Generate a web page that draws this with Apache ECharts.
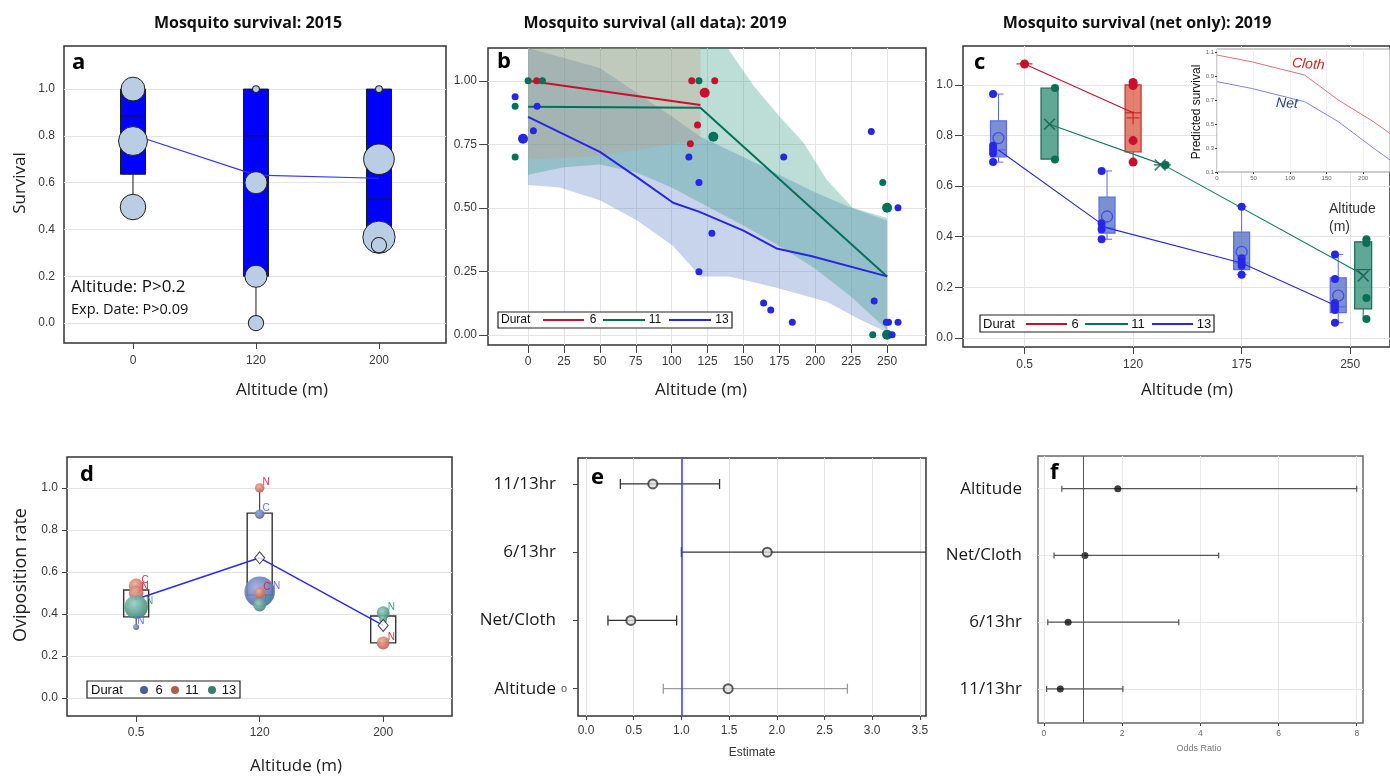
<!DOCTYPE html>
<html><head><meta charset="utf-8">
<script src="https://cdn.jsdelivr.net/npm/echarts@6/dist/echarts.min.js"></script>
<style>html,body{margin:0;padding:0;background:#fff}#c{width:1390px;height:778px}</style>
</head><body><div id="c"></div>
<script>
// ================= DATA =================
// Panel a (2015)
const aCats = ['0','120','200'];
const aBoxes = [ // [pos, low, q1, median, q3, high]
  [0, 0.50, 0.636, 0.885, 1.0, 1.0],
  [1, 0.00, 0.20, 0.80, 1.0, 1.0],
  [2, 0.33, 0.38, 0.53, 1.0, 1.0]];
const aMeans = [0.805, 0.632, 0.619];
const aPoints = [[0,1.0],[0,0.778],[0,0.496],[1,1.0],[1,0.60],[1,0.20],[1,0.0],[2,1.0],[2,0.70],[2,0.367],[2,0.333]];
const aWeights = [7, 8.5, 7.5, 2, 6.5, 6.5, 4.5, 2, 9, 9.5, 4.5];

// Panel b (2019 all data): [altitude, survival, n]
const bPts6 = [[6,1.0,1],[114,1.0,1],[130,1.0,1],[123,0.953,2],[118,0.826,1],[113,0.752,1]];
const bPts11 = [[0,1.0,1],[10,1.0,1],[-9,0.90,1],[-9,0.70,1],[119,1.0,1],[129,0.78,2],[247,0.60,1],[250,0.50,2],[240,0.0,1],[250,0.0,2]];
const bPts13 = [[-9,0.937,1],[-3.5,0.772,2],[3.7,0.803,1],[6.3,0.90,1],[112,0.70,1],[119,0.60,1],[119,0.248,1],[128,0.40,1],[164,0.125,1],[169,0.098,1],[184,0.05,1],[178,0.70,1],[239,0.80,1],[241,0.133,1],[249.5,0.05,1],[251,0.05,1],[253.5,0.0,1],[257.6,0.05,1],[257.6,0.5,1]];
const bFit6 = [[0,1.0],[120,0.905]];
const bFit11 = [[0,0.898],[120,0.894],[250,0.23]];
const bFit13 = [[0,0.858],[50,0.72],[76,0.62],[101,0.52],[119,0.485],[150,0.41],[173,0.34],[197,0.31],[250,0.23]];
const bBand6Up = [[0,1.3],[120,1.3]];
const bBand6Lo = [[0,0.69],[40,0.70],[80,0.73],[120,0.77]];
const bBand11Up = [[0,1.3],[139,1.13],[157,0.98],[175,0.86],[192,0.755],[208,0.61],[226,0.50],[250,0.46]];
const bBand11Lo = [[0,0.63],[25,0.66],[50,0.67],[75,0.64],[100,0.58],[120,0.52],[150,0.43],[175,0.35],[200,0.26],[225,0.15],[250,0.02]];
const bBand13Up = [[0,1.3],[50,1.05],[100,0.86],[120,0.78],[150,0.70],[175,0.63],[200,0.56],[225,0.50],[250,0.45]];
const bBand13Lo = [[0,0.59],[22,0.58],[50,0.53],[76,0.45],[101,0.35],[120,0.23],[140,0.23],[173,0.185],[208,0.13],[231,0.06],[250,0.01]];

// Panel c (2019 net only)
const cCats = ['0.5','120','175','250'];
const cBox13 = [[-0.24,0.695,0.716,0.743,0.858,0.964],[0.76,0.39,0.414,0.435,0.557,0.66],[2.0,0.25,0.27,0.296,0.418,0.52],[2.89,0.06,0.10,0.123,0.237,0.33]];
const cBox11 = [[0.23,0.707,0.707,null,0.988,0.988],[1.27,0.684,0.684,null,0.684,0.684],[3.12,0.075,0.115,0.27,0.38,0.39]];
const cBox6 = [[0,1.083,1.083,null,1.083,1.083],[1.0,0.695,0.735,0.89,1.0,1.0]];
const cPts13 = [[-0.29,0.964],[-0.29,0.76],[-0.29,0.745],[-0.29,0.73],[-0.29,0.695],[0.71,0.66],[0.71,0.453],[0.71,0.43],[0.71,0.39],[2.0,0.518],[2.0,0.315],[2.0,0.30],[2.0,0.285],[2.0,0.25],[2.86,0.33],[2.86,0.233],[2.86,0.138],[2.86,0.126],[2.86,0.11],[2.86,0.06]];
const cPts11 = [[0.28,0.988],[0.28,0.705],[1.30,0.684],[3.15,0.39],[3.15,0.375],[3.15,0.158],[3.15,0.075]];
const cPts6 = [[0,1.083],[1.0,1.01],[1.0,0.998],[1.0,0.78],[1.0,0.695]];
const cMean13 = [[-0.24,0.79],[0.76,0.48],[2.0,0.34],[2.89,0.167]];
const cMean11 = [[0.23,0.845],[1.25,0.684],[3.12,0.245]];
const cMean6 = [[1.0,0.87]];
const cLine13 = [[-0.24,0.743],[0.76,0.435],[2.0,0.296],[2.89,0.123]];
const cLine11 = [[0.23,0.845],[1.28,0.684],[3.12,0.25]];
const cLine6 = [[0,1.083],[1.0,0.89]];
// inset: predicted survival vs altitude
const insCloth = [[0,1.075],[47,1.019],[120,0.908],[166,0.70],[214,0.52],[237,0.42]];
const insNet = [[0,0.853],[47,0.797],[120,0.686],[166,0.52],[214,0.30],[237,0.20]];

// Panel d (oviposition): [pos, rate, weight, tag]
const dCats = ['0.5','120','200'];
const dBoxes = [[0,0.338,0.386,null,0.514,0.514],[1,0.49,0.49,null,0.88,1.0],[2,0.262,0.262,null,0.39,0.39]];
const dPts6 = [[0,0.338,1,'N'],[1,0.875,2,'C'],[1,0.505,8,'N']];
const dPts11 = [[0,0.533,3.5,'C'],[0,0.50,3.5,'N'],[1,1.0,2,'N'],[1,0.50,2.5,'C'],[2,0.262,3,'N']];
const dPts13 = [[0,0.433,6,'N'],[1,0.443,3,'N'],[2,0.405,3,'N'],[2,0.375,1.5,'']];
const dMeans = [0.47, 0.667, 0.345];

// Panel e (estimates)
const eLabels = ['Altitude','Net/Cloth','6/13hr','11/13hr'];
const eEst = [1.49, 0.47, 1.90, 0.70];
const eLo = [0.81, 0.23, 1.00, 0.36];
const eHi = [2.74, 0.95, 3.70, 1.40];

// Panel f (odds ratios)
const fLabels = ['11/13hr','6/13hr','Net/Cloth','Altitude'];
const fEst = [0.42, 0.62, 1.05, 1.89];
const fLo = [0.07, 0.10, 0.26, 0.46];
const fHi = [2.02, 3.45, 4.47, 8.0];

// ================= STYLE / BUILD =================
const FT = '"Liberation Sans", Arial, sans-serif';
const FO = '"Open Sans", "Noto Sans", sans-serif';
const RED = '#c8102e', GRN = '#00715a', BLU = '#2626e6';

function range(a, b, s){ const r=[]; for(let v=a; v<=b+1e-9; v+=s) r.push(+v.toFixed(6)); return r; }

function axis(o){
  return {
    type:'value', gridIndex:o.gi, min:o.min, max:o.max, minInterval:o.step, maxInterval:o.step,
    z: o.z || 0,
    axisLine:{show:false, onZero:false},
    axisTick:{show:(o.tickLen||0)>0, inside:false, length:o.tickLen||4, customValues:o.ticks,
      lineStyle:{color:o.tickColor||'#444', width:1}},
    axisLabel:{show:o.showLabel!==false, customValues:o.ticks, margin:o.margin||8,
      color:o.color||'#3a3a3a', fontSize:o.fs||12, fontFamily:o.ff||FT,
      formatter: v => (o.ticks.some(t=>Math.abs(t-v)<1e-6) ? o.fmt(v) : '')},
    splitLine:{show:!!o.split, lineStyle:{color:o.splitColor||'#e4e4e4', width:1}}
  };
}
const catFmt = cats => v => { const i=Math.round(v); return (Math.abs(i-v)<1e-6 && cats[i]!==undefined) ? cats[i] : ''; };

function boxSeries(gi, data, st){
  return {
    type:'custom', xAxisIndex:gi, yAxisIndex:gi, z:st.z||2, silent:true,
    encode:{x:0, y:[1,2,3,4,5]}, data:data,
    renderItem:function(params, api){
      const x = api.value(0);
      const P = v => api.coord([x, v]);
      const lo=P(api.value(1)), q1=P(api.value(2)), q3=P(api.value(4)), hi=P(api.value(5));
      const med = api.value(3);
      const cx = lo[0], hw = st.hw;
      const ws = {stroke:st.whisker||st.stroke, lineWidth:st.wlw||1};
      const ch = [];
      ch.push({type:'line', shape:{x1:cx,y1:q3[1],x2:cx,y2:hi[1]}, style:ws});
      ch.push({type:'line', shape:{x1:cx,y1:q1[1],x2:cx,y2:lo[1]}, style:ws});
      if (st.cap){
        if (Math.abs(hi[1]-q3[1])>1) ch.push({type:'line', shape:{x1:cx-st.cap,y1:hi[1],x2:cx+st.cap,y2:hi[1]}, style:ws});
        if (Math.abs(lo[1]-q1[1])>1) ch.push({type:'line', shape:{x1:cx-st.cap,y1:lo[1],x2:cx+st.cap,y2:lo[1]}, style:ws});
      }
      ch.push({type:'rect', shape:{x:cx-hw, y:q3[1], width:2*hw, height:Math.max(q1[1]-q3[1],0)},
        style:{fill:st.fill, stroke:st.stroke, lineWidth:st.lw||1}});
      if (med!=null && !isNaN(med)){
        const m = P(med);
        ch.push({type:'line', shape:{x1:cx-hw,y1:m[1],x2:cx+hw,y2:m[1]}, style:{stroke:st.medStroke||st.stroke, lineWidth:st.lw||1}});
      }
      return {type:'group', children:ch};
    }
  };
}

function bandSeries(gi, up, lo, color, ymax){
  return {
    type:'custom', xAxisIndex:gi, yAxisIndex:gi, z:1, silent:true,
    data:[[0,0]],
    renderItem:function(params, api){
      const pts = up.map(p => api.coord([p[0], Math.min(p[1], ymax)]))
        .concat(lo.slice().reverse().map(p => api.coord([p[0], Math.min(p[1], ymax)])));
      return {type:'polygon', shape:{points:pts}, style:{fill:color}};
    }
  };
}

function errSeries(gi, pos, est, lo, hi, colorFn, lw, cap){
  const data = pos.map((p,i)=>[p, est[i], lo[i], hi[i]]);
  return {
    type:'custom', xAxisIndex:gi, yAxisIndex:gi, z:3, silent:true,
    encode:{x:[1,2,3], y:0}, data:data,
    renderItem:function(params, api){
      const cs = params.coordSys;
      const y = api.value(0);
      const a = api.coord([api.value(2), y]), b = api.coord([api.value(3), y]);
      const right = cs.x + cs.width;
      const clipped = b[0] > right;
      const bx = Math.min(b[0], right);
      const s = {stroke:colorFn(params.dataIndex), lineWidth:lw};
      const ch = [{type:'line', shape:{x1:a[0],y1:a[1],x2:bx,y2:a[1]}, style:s},
                  {type:'line', shape:{x1:a[0],y1:a[1]-cap,x2:a[0],y2:a[1]+cap}, style:s}];
      if (!clipped) ch.push({type:'line', shape:{x1:bx,y1:a[1]-cap,x2:bx,y2:a[1]+cap}, style:s});
      return {type:'group', children:ch};
    }
  };
}

// grids
const grids = [
  {left:64, top:46, width:382, height:297},   // a
  {left:488, top:48, width:438, height:297},  // b
  {left:963, top:46, width:430, height:301},  // c
  {left:1217, top:49, width:180, height:123, z:5, backgroundColor:'#fff', borderColor:'#999', borderWidth:1}, // c inset
  {left:67, top:457, width:385, height:259},  // d
  {left:578, top:458, width:348, height:258}, // e
  {left:1038, top:456, width:325, height:267, borderColor:'#666'} // f
].map(g => Object.assign({show:true, borderColor:'#333', borderWidth:1.5, backgroundColor:'transparent', containLabel:false}, g));

const xAxes = [
  axis({gi:0, min:-0.561, max:2.545, step:1, ticks:[0,1,2], fmt:catFmt(aCats), tickLen:6, margin:12, fs:12}),
  axis({gi:1, min:-27.9, max:277.1, step:25, ticks:range(0,250,25), fmt:v=>String(Math.round(v)), tickLen:8, margin:11, fs:12, split:true}),
  axis({gi:2, min:-0.567, max:3.367, step:1, ticks:[0,1,2,3], fmt:catFmt(cCats), tickLen:7, margin:12, fs:12, split:true}),
  axis({gi:3, min:0, max:236.8, step:50, ticks:[0,50,100,150,200], fmt:v=>String(v), tickLen:2, margin:3, fs:6, color:'#666', split:true, splitColor:'#eee', z:6}),
  axis({gi:4, min:-0.56, max:2.557, step:1, ticks:[0,1,2], fmt:catFmt(dCats), tickLen:6, margin:11, fs:12}),
  axis({gi:5, min:-0.084, max:3.564, step:0.5, ticks:range(0,3.5,0.5), fmt:v=>v.toFixed(1), tickLen:4, margin:9, fs:12, split:true}),
  axis({gi:6, min:-0.15, max:8.16, step:2, ticks:[0,2,4,6,8], fmt:v=>String(v), tickLen:3, margin:6, fs:8.5, color:'#666', split:true, splitColor:'#e8e8e8'})
];
const yAxes = [
  axis({gi:0, min:-0.085, max:1.184, step:0.2, ticks:range(0,1,0.2), fmt:v=>v.toFixed(1), tickLen:0, margin:9, fs:12, split:true}),
  axis({gi:1, min:-0.04, max:1.129, step:0.25, ticks:range(0,1,0.25), fmt:v=>v.toFixed(2), tickLen:9, margin:11, fs:12, split:true}),
  axis({gi:2, min:-0.036, max:1.154, step:0.2, ticks:range(0,1,0.2), fmt:v=>v.toFixed(1), tickLen:8, margin:10, fs:12, split:true}),
  axis({gi:3, min:0.1, max:1.125, step:0.1, ticks:[0.1,0.3,0.5,0.7,0.9,1.1], fmt:v=>v.toFixed(1), tickLen:2, margin:3, fs:6, color:'#666', split:false, z:6}),
  axis({gi:4, min:-0.086, max:1.147, step:0.2, ticks:range(0,1,0.2), fmt:v=>v.toFixed(1), tickLen:5, margin:9, fs:12, split:true}),
  axis({gi:5, min:-0.4, max:3.38, step:1, ticks:[0,1,2,3], fmt:catFmt(eLabels), tickLen:5, margin:22, fs:17, ff:FO, color:'#1a1a1a'}),
  axis({gi:6, min:-0.51, max:3.49, step:1, ticks:[0,1,2,3], fmt:catFmt(fLabels), tickLen:0, margin:16, fs:17, ff:FO, color:'#1a1a1a', split:true, splitColor:'#e8e8e8'})
];

const series = [];
// ---- a ----
series.push(boxSeries(0, aBoxes, {hw:12.5, fill:'#0000ff', stroke:'#1a1a1a', whisker:'#1a1a1a', lw:1, z:2}));
series.push({type:'line', xAxisIndex:0, yAxisIndex:0, data:aMeans.map((v,i)=>[i,v]), symbol:'none', silent:true,
  lineStyle:{color:'#3535ff', width:1.2}, z:3});
series.push({type:'scatter', xAxisIndex:0, yAxisIndex:0, silent:true, z:4,
  data:aPoints.map((p,i)=>[p[0],p[1],aWeights[i]]), symbolSize:d=>d[2]*3.4,
  itemStyle:{color:'#b9cde5', borderColor:'#222', borderWidth:1, opacity:1}});

// ---- b ----
const B_YMAX = 1.129;
series.push(bandSeries(1, bBand13Up, bBand13Lo, 'rgba(72,112,188,0.30)', B_YMAX));
series.push(bandSeries(1, bBand11Up, bBand11Lo, 'rgba(38,145,122,0.30)', B_YMAX));
series.push(bandSeries(1, bBand6Up, bBand6Lo, 'rgba(200,150,120,0.28)', B_YMAX));
[[bFit6,RED],[bFit11,GRN],[bFit13,BLU]].forEach(([d,c])=>{
  series.push({type:'line', xAxisIndex:1, yAxisIndex:1, data:d, symbol:'none', silent:true, lineStyle:{color:c, width:2}, z:3});
});
[[bPts6,RED],[bPts11,GRN],[bPts13,BLU]].forEach(([d,c])=>{
  series.push({type:'scatter', xAxisIndex:1, yAxisIndex:1, data:d, silent:true, z:4,
    symbolSize:p=>7+(p[2]-1)*3, itemStyle:{color:c, opacity:1}});
});

// ---- c ----
series.push(boxSeries(2, cBox13, {hw:8, fill:'rgba(60,90,190,0.68)', stroke:'#5a6ae6', whisker:'#5a6ae6', cap:5, lw:1.2, z:2}));
series.push(boxSeries(2, cBox11, {hw:8.5, fill:'rgba(30,130,105,0.70)', stroke:'#1a6a55', whisker:'#1a6a55', lw:1.2, z:2}));
series.push(boxSeries(2, cBox6, {hw:8, fill:'rgba(215,75,50,0.70)', stroke:'#c03030', whisker:'#c03030', lw:1.2, z:2}));
[[cLine13,BLU],[cLine11,'#107a62'],[cLine6,RED]].forEach(([d,c])=>{
  series.push({type:'line', xAxisIndex:2, yAxisIndex:2, data:d, symbol:'none', silent:true, lineStyle:{color:c, width:1.1}, z:3});
});
[[cPts13,BLU,8],[cPts11,'#0b6e55',8],[cPts6,RED,9]].forEach(([d,c,s])=>{
  series.push({type:'scatter', xAxisIndex:2, yAxisIndex:2, data:d, silent:true, z:4, symbolSize:s, itemStyle:{color:c, opacity:1}});
});
series.push({type:'scatter', xAxisIndex:2, yAxisIndex:2, data:cMean13, silent:true, z:5, symbolSize:11,
  itemStyle:{color:'rgba(0,0,0,0)', borderColor:'#3a3ae8', borderWidth:1.3}});
series.push({type:'scatter', xAxisIndex:2, yAxisIndex:2, data:cMean11, silent:true, z:5, symbolSize:12,
  symbol:'path://M0,1L1,0L10,9L9,10Z M9,0L10,1L1,10L0,9Z', itemStyle:{color:'#125e4c'}});
series.push({type:'scatter', xAxisIndex:2, yAxisIndex:2, data:cMean6, silent:true, z:5, symbolSize:13,
  symbol:'path://M4.5,0h1v10h-1z M0,4.5h10v1h-10z', itemStyle:{color:'#b82020'}});
// inset
series.push({type:'line', xAxisIndex:3, yAxisIndex:3, data:insCloth, symbol:'none', silent:true, z:7, clip:true, lineStyle:{color:'#e07070', width:1}});
series.push({type:'line', xAxisIndex:3, yAxisIndex:3, data:insNet, symbol:'none', silent:true, z:7, clip:true, lineStyle:{color:'#8080f0', width:1}});

// ---- d ----
series.push(boxSeries(4, dBoxes, {hw:12.5, fill:'rgba(0,0,0,0)', stroke:'#333', whisker:'#222', lw:1.4, z:2}));
series.push({type:'line', xAxisIndex:4, yAxisIndex:4, data:dMeans.map((v,i)=>[i,v]), symbol:'none', silent:true, z:3,
  lineStyle:{color:'#2a2af0', width:1.5}});
function grad(l, d){ return {type:'radial', x:0.4, y:0.35, r:0.75, colorStops:[{offset:0,color:l},{offset:1,color:d}]}; }
[[dPts6, grad('#9aaee0','#4a5e98'), '#5a5aff'],
 [dPts11, grad('#f0ac9c','#b45a48'), '#d8203a'],
 [dPts13, grad('#98d0c4','#3a7e6e'), '#2a9a88']].forEach(([d,fill,lc])=>{
  series.push({type:'scatter', xAxisIndex:4, yAxisIndex:4, data:d, silent:true, z:4,
    symbolSize:p=>2.5+3.5*p[2], itemStyle:{color:fill, opacity:0.92},
    label:{show:true, position:'right', distance:-2, offset:[0,-6], formatter:p=>p.data[3], color:lc, fontSize:10, fontFamily:FT}});
});
series.push({type:'scatter', xAxisIndex:4, yAxisIndex:4, data:[[1,dMeans[1]],[2,dMeans[2]]], silent:true, z:5,
  symbol:'diamond', symbolSize:[10,12], itemStyle:{color:'#fff', borderColor:'#111', borderWidth:1}});

// ---- e ----
series.push(errSeries(5, [0,1,2,3], eEst, eLo, eHi, i => i===0 ? '#9a9a9a' : '#333', 1.3, 5));
series.push({type:'scatter', xAxisIndex:5, yAxisIndex:5, data:eEst.map((v,i)=>[v,i]), silent:true, z:4, symbolSize:9,
  itemStyle:{color:'#ddd', borderColor:'#333', borderWidth:2},
  markLine:{silent:true, symbol:'none', label:{show:false}, data:[{xAxis:1}], lineStyle:{color:'#3b3bff', width:1.5, type:'solid'}}});

// ---- f ----
series.push(errSeries(6, [0,1,2,3], fEst, fLo, fHi, () => '#555', 1.2, 3));
series.push({type:'scatter', xAxisIndex:6, yAxisIndex:6, data:fEst.map((v,i)=>[v,i]), silent:true, z:4, symbolSize:7,
  itemStyle:{color:'#111'},
  markLine:{silent:true, symbol:'none', label:{show:false}, data:[{xAxis:1}], lineStyle:{color:'#555', width:1, type:'solid'}}});

// ================= TEXT / LEGENDS =================
const G = [];
function txt(x, y, text, font, color, align, rot){
  G.push({type:'text', x:x, y:y, rotation:rot||0, z:100,
    style:{x:0, y:0, text:text, font:font, fill:color||'#111', textAlign:align||'center', align:align||'center',
      textVerticalAlign:'middle', verticalAlign:'middle'}});
}
function ln(x1,y1,x2,y2,c,w){ G.push({type:'line', z:100, shape:{x1,y1,x2,y2}, style:{stroke:c, lineWidth:w||2}}); }
function box(x,y,w,h){ G.push({type:'rect', z:99, shape:{x,y,width:w,height:h}, style:{fill:'#fff', stroke:'#222', lineWidth:1.2}}); }
function dot(cx,cy,r,c){ G.push({type:'circle', z:100, shape:{cx,cy,r}, style:{fill:c}}); }

// titles
txt(248, 23, 'Mosquito survival: 2015', 'bold 16px '+FO, '#111');
txt(655, 23, 'Mosquito survival (all data): 2019', 'bold 16px '+FO, '#111');
txt(1137, 23, 'Mosquito survival (net only): 2019', 'bold 16px '+FO, '#111');
// panel letters
txt(72, 63, 'a', 'bold 22px '+FO, '#000', 'left');
txt(497, 62, 'b', 'bold 22px '+FO, '#000', 'left');
txt(974, 63, 'c', 'bold 22px '+FO, '#000', 'left');
txt(80, 475, 'd', 'bold 22px '+FO, '#000', 'left');
txt(591, 478, 'e', 'bold 22px '+FO, '#000', 'left');
txt(1050, 473, 'f', 'bold 22px '+FO, '#000', 'left');
// axis names
txt(282, 390, 'Altitude (m)', '17px '+FO, '#222');
txt(701, 390, 'Altitude (m)', '17px '+FO, '#222');
txt(1187, 390, 'Altitude (m)', '17px '+FO, '#222');
txt(296, 766, 'Altitude (m)', '17px '+FO, '#222');
txt(20, 183, 'Survival', '17px '+FO, '#222', 'center', Math.PI/2);
txt(21, 575, 'Oviposition rate', '18px '+FO, '#222', 'center', Math.PI/2);
txt(752, 753, 'Estimate', '12px '+FT, '#333');
txt(1199, 749, 'Odds Ratio', '9px '+FT, '#777');
txt(564, 689, 'o', '11px '+FT, '#555');
// panel a annotations
txt(71, 287, 'Altitude: P>0.2', '17px '+FO, '#111', 'left');
txt(71, 310, 'Exp. Date: P>0.09', '14.5px '+FO, '#111', 'left');
// panel c inset texts
txt(1197, 112, 'Predicted survival', '12px '+FT, '#111', 'center', Math.PI/2);
txt(1292, 63, 'Cloth', 'italic 14px '+FT, '#d02020', 'left', -0.08);
txt(1276, 103, 'Net', 'italic 14px '+FT, '#2a3a9a', 'left', -0.05);
txt(1329, 209, 'Altitude', '14px '+FT, '#333', 'left');
txt(1329, 227, '(m)', '14px '+FT, '#333', 'left');
// legend b
box(498, 312, 234, 16);
txt(501, 320, 'Durat', '12px "Liberation Sans Narrow", '+FT, '#111', 'left');
ln(543,320,584,320,RED); txt(593,320,'6','12px "Liberation Sans Narrow", '+FT,'#111');
ln(603,320,645,320,GRN); txt(655,320,'11','12px "Liberation Sans Narrow", '+FT,'#111');
ln(669,320,711,320,BLU); txt(722,320,'13','12px "Liberation Sans Narrow", '+FT,'#111');
// legend c
box(980, 315, 234, 17);
txt(983, 324, 'Durat', '13px "Liberation Sans Narrow", '+FT, '#111', 'left');
ln(1026,324,1067,324,RED); txt(1075,324,'6','13px "Liberation Sans Narrow", '+FT,'#111');
ln(1085,324,1128,324,GRN); txt(1138,324,'11','13px "Liberation Sans Narrow", '+FT,'#111');
ln(1152,324,1193,324,BLU); txt(1204,324,'13','13px "Liberation Sans Narrow", '+FT,'#111');
// legend d
box(87, 681, 153, 17);
txt(91, 690, 'Durat', '13px '+FT, '#111', 'left');
dot(144,690,4,'#4a5e98'); txt(159,690,'6','13px '+FT,'#111');
dot(175,690,4,'#b45a48'); txt(192,690,'11','13px '+FT,'#111');
dot(212,690,4,'#3a7e6e'); txt(229,690,'13','13px '+FT,'#111');

const option = {
  animation:false, backgroundColor:'#fff',
  grid:grids, xAxis:xAxes, yAxis:yAxes, series:series,
  graphic:{elements:G}
};
const chart = echarts.init(document.getElementById('c'), null, {renderer:'canvas'});
chart.setOption(option);
</script></body></html>
